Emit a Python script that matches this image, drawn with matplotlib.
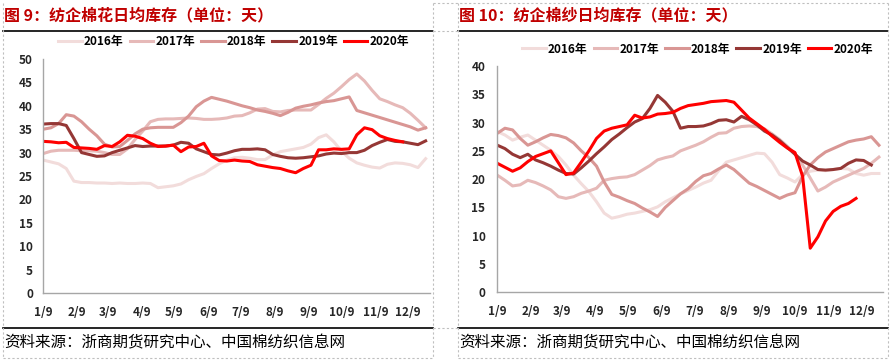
import matplotlib.pyplot as plt
import pandas as pd
from matplotlib.lines import Line2D

plt.rcParams['font.family'] = ['Noto Sans CJK SC', 'DejaVu Sans']

W, H = 891, 362

years = ['2016年', '2017年', '2018年', '2019年', '2020年']
colors = ['#F2DCDB', '#E6B9B8', '#D99694', '#953735', '#FF0000']
month_labels = ['1/9', '2/9', '3/9', '4/9', '5/9', '6/9', '7/9', '8/9', '9/9', '10/9', '11/9', '12/9']

# 纺企棉花日均库存（天），周度
cotton_2016 = [28.4, 28.0, 27.6, 26.6, 23.9, 23.6, 23.6, 23.5, 23.5, 23.4, 23.5, 23.4, 23.4,
               23.5, 23.4, 22.5, 22.7, 22.9, 23.3, 24.2, 24.9, 25.5, 26.6, 27.6, 28.4, 28.9,
               29.0, 28.8, 28.5, 28.5, 29.5, 30.2, 30.5, 30.8, 31.1, 31.8, 33.2, 33.8, 32.3,
               30.3, 28.8, 27.8, 27.3, 26.9, 26.7, 27.5, 27.8, 27.7, 27.4, 26.8, 28.7]
cotton_2017 = [29.8, 30.3, 30.5, 30.5, 30.5, 30.4, 30.4, 30.3, 30.0, 29.6, 29.6, 30.8, 32.8,
               34.6, 36.6, 37.1, 37.2, 37.2, 37.3, 37.4, 37.3, 37.1, 37.1, 37.2, 37.4, 37.8,
               37.9, 38.5, 39.3, 39.4, 38.8, 38.7, 39.0, 39.1, 39.1, 39.1, 40.3, 41.6, 42.7,
               44.1, 45.6, 46.8, 45.3, 43.3, 41.5, 40.9, 40.2, 39.6, 38.4, 36.9, 35.3]
cotton_2018 = [35.0, 35.3, 36.2, 38.1, 37.8, 36.6, 35.0, 33.6, 31.8, 31.2, 31.3, 32.6, 34.0,
               35.0, 35.3, 35.4, 35.4, 35.4, 36.4, 37.8, 39.8, 41.0, 41.8, 41.4, 41.0, 40.5,
               40.0, 39.6, 39.1, 38.8, 38.4, 37.9, 38.6, 39.5, 39.9, 40.2, 40.6, 40.9, 41.1,
               41.5, 41.9, 39.0, 38.5, 38.0, 37.5, 37.0, 36.5, 36.0, 35.5, 34.8, 35.3]
cotton_2019 = [36.1, 36.2, 36.2, 35.8, 33.0, 30.0, 29.6, 29.2, 29.3, 30.0, 30.5, 31.0, 31.5,
               31.3, 31.4, 31.4, 31.4, 31.6, 32.2, 32.0, 30.8, 30.2, 29.6, 29.5, 29.9, 30.4,
               30.7, 30.7, 30.8, 30.6, 29.6, 29.2, 28.9, 28.8, 28.9, 29.1, 29.3, 29.7, 29.9,
               29.8, 30.0, 30.0, 30.5, 31.5, 32.2, 32.8, 32.4, 32.3, 32.0, 31.7, 32.5]
cotton_2020 = [32.4, 32.3, 32.1, 32.2, 31.1, 31.0, 30.9, 30.7, 31.5, 31.3, 32.3, 33.7, 33.5,
               33.0, 32.0, 31.3, 31.4, 31.6, 30.2, 31.2, 31.3, 32.0, 29.3, 28.3, 28.2, 28.4,
               28.2, 28.1, 27.4, 27.1, 26.8, 26.6, 26.1, 25.7, 26.6, 27.3, 30.6, 30.6, 30.8,
               30.7, 30.8, 33.8, 35.3, 34.9, 33.6, 33.0, 32.6, 32.3]

# 纺企棉纱日均库存（天），周度
yarn_2016 = [28.4, 27.8, 26.9, 27.4, 27.8, 26.9, 26.0, 25.1, 24.0, 22.5, 20.7, 19.2, 17.8,
             16.0, 14.0, 13.1, 13.4, 13.8, 14.0, 14.3, 14.6, 15.1, 16.0, 16.7, 17.4, 18.0,
             18.6, 19.3, 19.8, 21.5, 23.0, 23.4, 23.8, 24.2, 24.6, 24.5, 23.0, 20.8, 20.2,
             19.5, 20.8, 21.4, 21.6, 21.5, 21.7, 21.9, 21.8, 21.0, 20.7, 21.0, 21.0]
yarn_2017 = [20.7, 19.8, 18.8, 19.0, 19.8, 19.4, 18.8, 18.1, 16.9, 16.6, 16.9, 17.5, 17.9,
             18.4, 19.8, 20.1, 20.3, 20.4, 20.8, 21.6, 22.4, 23.4, 23.8, 24.1, 25.0, 25.5,
             26.0, 26.6, 27.4, 28.1, 28.2, 29.0, 29.3, 29.4, 29.3, 28.9, 28.0, 27.0, 25.8,
             24.5, 22.5, 20.2, 17.9, 18.6, 19.5, 20.1, 20.7, 21.3, 21.9, 22.8, 23.9]
yarn_2018 = [28.1, 29.0, 28.7, 27.2, 26.0, 26.6, 27.3, 27.9, 27.7, 27.3, 26.4, 25.0, 23.8,
             22.3, 19.5, 17.3, 16.8, 16.2, 15.7, 14.9, 14.2, 13.4, 15.0, 16.2, 17.4, 18.3,
             19.6, 20.6, 21.0, 21.8, 22.5, 21.7, 20.5, 19.3, 18.7, 18.0, 17.3, 16.6, 17.2,
             17.6, 20.5, 22.5, 23.8, 24.8, 25.4, 26.0, 26.6, 26.9, 27.1, 27.5, 26.0]
yarn_2019 = [26.0, 25.4, 24.4, 23.8, 24.4, 23.4, 22.9, 22.3, 21.6, 21.0, 20.9, 22.0, 23.2,
             24.5, 25.7, 27.0, 28.0, 29.1, 30.1, 30.7, 32.5, 34.8, 33.6, 32.0, 29.0, 29.3,
             29.3, 29.4, 29.8, 30.4, 30.5, 30.1, 31.1, 30.5, 29.6, 28.5, 27.8, 26.8, 25.6,
             24.4, 23.2, 22.5, 21.7, 21.6, 21.7, 21.9, 22.8, 23.4, 23.3, 22.5]
yarn_2020 = [22.8, 22.1, 21.4, 22.0, 23.1, 24.0, 24.5, 25.0, 22.9, 20.8, 21.1, 23.0, 25.0,
             27.2, 28.5, 29.0, 29.3, 29.6, 31.3, 30.8, 31.0, 31.5, 31.6, 31.8, 32.5, 33.0,
             33.2, 33.4, 33.7, 33.8, 33.9, 33.6, 32.2, 30.8, 29.8, 28.8, 27.6, 26.5, 25.5,
             24.7, 20.5, 7.8, 9.8, 12.6, 14.3, 15.2, 15.7, 16.6]

source = '资料来源：浙商期货研究中心、中国棉纺织信息网'

start = pd.Timestamp('2019-01-09')
weeks = pd.date_range(start, periods=51, freq='7D')
month_ticks = pd.date_range('2019-01-01', periods=12, freq='MS') + pd.Timedelta(days=8)


def fx(px):
    return px / W


def fy(py):
    return 1 - py / H


def hline(fig, x0, x1, y, **kw):
    fig.add_artist(Line2D([fx(x0), fx(x1)], [fy(y), fy(y)], transform=fig.transFigure, **kw))


def vline(fig, x, y0, y1, **kw):
    fig.add_artist(Line2D([fx(x), fx(x)], [fy(y0), fy(y1)], transform=fig.transFigure, **kw))


def draw_panel(fig, left, right, title, series, ymax, box, legend_x, legend_y, ypad):
    # 标题和分隔线
    fig.text(fx(left + 1), fy(15), title, fontsize=11.5, fontweight='bold',
             color='#C00000', va='center', ha='left')
    hline(fig, left, right, 31, color='black', lw=1.2)
    hline(fig, left, right, 328, color='black', lw=1.2)
    fig.text(fx(left + 1), fy(343), source, fontsize=11.2, color='black',
             va='center', ha='left')

    ax = fig.add_axes(box)
    handles = []
    for vals, name, c in zip(series, years, colors):
        h, = ax.plot(weeks[:len(vals)], vals, color=c, lw=2.2, label=name,
                     solid_joinstyle='round')
        handles.append(h)

    ax.set_ylim(0, ymax)
    ax.set_yticks(range(0, ymax + 1, 5))
    ax.set_xlim(start, start + pd.Timedelta(days=354))
    ax.set_xticks(month_ticks)
    ax.set_xticklabels(month_labels)
    for s in ['top', 'right']:
        ax.spines[s].set_visible(False)
    for s in ['left', 'bottom']:
        ax.spines[s].set_color('#A6A6A6')
        ax.spines[s].set_linewidth(1.0)
    ax.tick_params(axis='x', length=0, pad=9, labelsize=8.5, colors='#262626')
    ax.tick_params(axis='y', length=0, pad=ypad, labelsize=8.5, colors='#262626')
    for lab in ax.get_xticklabels() + ax.get_yticklabels():
        lab.set_fontweight('bold')

    fig.legend(handles=handles, loc='center left',
               bbox_to_anchor=(fx(legend_x), fy(legend_y)), ncol=5, frameon=False,
               prop={'size': 8.5, 'weight': 'bold'}, handlelength=2.0,
               handletextpad=0.2, columnspacing=0.5, borderpad=0, borderaxespad=0)
    return ax


fig = plt.figure(figsize=(W / 100, H / 100), dpi=100)

draw_panel(fig, 3, 433, '图 9：纺企棉花日均库存（单位：天）',
           [cotton_2016, cotton_2017, cotton_2018, cotton_2019, cotton_2020], 50,
           [fx(43.3), fy(293), (430 - 43.3) / W, (293 - 59) / H], 58, 42, 7.5)
draw_panel(fig, 458, 888, '图 10：纺企棉纱日均库存（单位：天）',
           [yarn_2016, yarn_2017, yarn_2018, yarn_2019, yarn_2020], 40,
           [fx(497.3), fy(292.3), (883.3 - 497.3) / W, (292.3 - 66) / H], 522, 49, 8.5)

# 表格虚线边框
dot = dict(color='#BFBFBF', lw=0.8, linestyle=(0, (2, 2)))
for x in [3, 433, 458, 888]:
    vline(fig, x, 3, 358, **dot)
hline(fig, 3, 433, 358, **dot)
hline(fig, 458, 888, 358, **dot)
hline(fig, 433, 888, 3, **dot)
hline(fig, 433, 458, 31, **dot)
hline(fig, 433, 458, 328, **dot)

fig.savefig('out.png', dpi=100)
